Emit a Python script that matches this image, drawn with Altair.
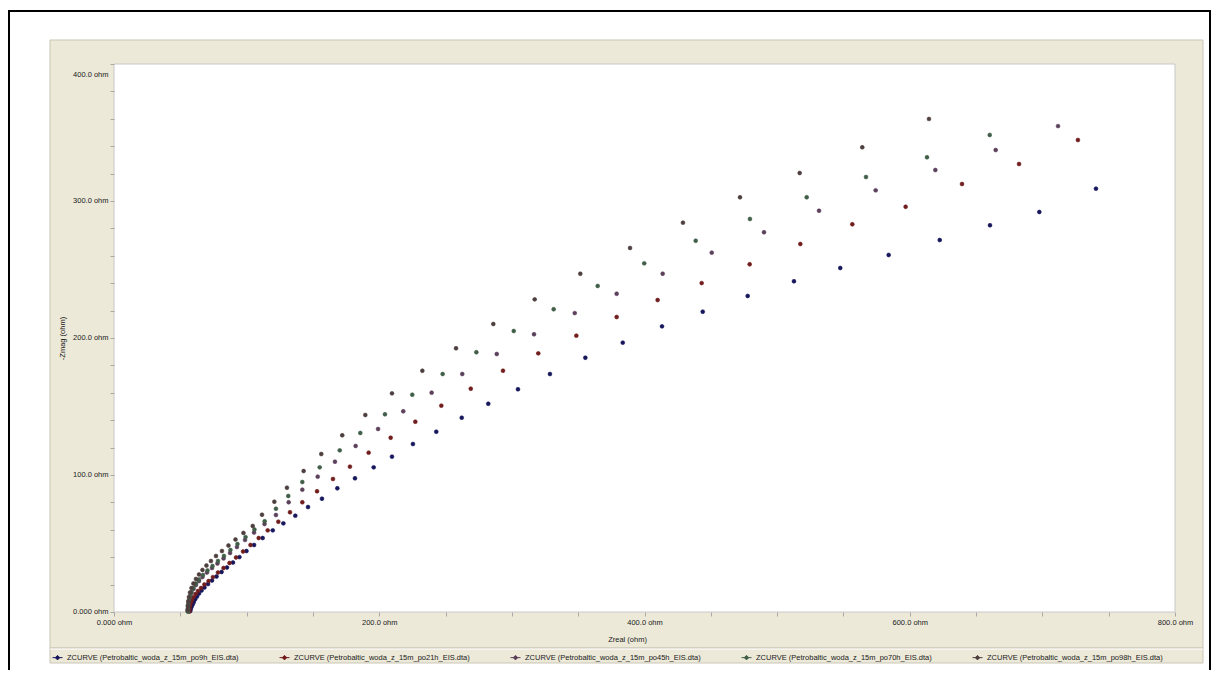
import altair as alt
import pandas as pd

# ---------------- data ----------------
series_names = [
    "ZCURVE (Petrobaltic_woda_z_15m_po9h_EIS.dta)",
    "ZCURVE (Petrobaltic_woda_z_15m_po21h_EIS.dta)",
    "ZCURVE (Petrobaltic_woda_z_15m_po45h_EIS.dta)",
    "ZCURVE (Petrobaltic_woda_z_15m_po70h_EIS.dta)",
    "ZCURVE (Petrobaltic_woda_z_15m_po98h_EIS.dta)",
]

po9h_zreal = [57.5, 57.9, 58.5, 59.3, 60.2, 61.2, 62.6, 64.1, 66.0, 68.2, 70.9, 73.9, 77.3, 81.1, 85.2, 89.7,
              94.6, 99.9, 105.6, 112.1, 119.7, 127.7, 136.7, 146.3, 156.8, 168.4, 181.7, 195.8, 209.6, 225.4,
              243.0, 262.2, 282.2, 304.6, 328.7, 355.4, 383.6, 413.2, 443.9, 477.8, 512.7, 547.6, 584.1, 622.6,
              660.5, 697.7, 740.4]
po9h_zmag = [0.7, 2.2, 3.8, 5.5, 7.3, 9.3, 11.3, 13.5, 15.7, 17.9, 20.4, 23.0, 25.9, 29.2, 32.5, 36.1,
             40.1, 44.5, 48.9, 54.0, 59.6, 64.7, 70.3, 76.6, 82.7, 90.3, 97.6, 105.6, 113.4, 122.6,
             131.6, 141.8, 152.0, 162.6, 173.7, 185.6, 196.6, 208.5, 219.2, 230.7, 241.4, 251.1, 260.6, 271.5,
             282.3, 292.0, 309.0]

po21h_zreal = [56.8, 56.9, 57.3, 57.9, 58.8, 59.9, 61.5, 63.3, 65.6, 68.2, 71.3, 74.6, 78.4, 82.6, 87.1, 92.0,
               97.3, 102.9, 109.1, 115.9, 123.9, 132.7, 142.0, 153.1, 165.1, 177.9, 192.0, 208.6, 227.2, 246.8,
               269.0, 293.3, 319.9, 348.6, 379.0, 409.9, 443.1, 479.3, 517.5, 556.7, 596.9, 639.4, 682.4, 726.8]
po21h_zmag = [0.4, 2.2, 4.4, 6.6, 8.8, 10.9, 13.1, 15.3, 17.5, 20.1, 22.6, 25.5, 28.8, 32.1, 35.8, 39.8,
              44.2, 48.9, 54.0, 59.6, 65.9, 72.8, 80.1, 88.1, 97.1, 106.1, 116.3, 127.2, 138.9, 150.6,
              163.0, 176.1, 188.8, 201.7, 215.3, 227.7, 240.1, 253.8, 268.6, 283.0, 295.8, 312.4, 327.0, 344.5]

po45h_zreal = [55.8, 55.9, 56.2, 56.5, 57.3, 58.4, 59.9, 61.8, 64.1, 66.7, 70.1, 73.9, 78.0, 82.6, 87.5, 92.7,
               98.8, 105.6, 113.5, 122.1, 131.7, 142.0, 153.6, 166.6, 182.2, 199.1, 218.1, 239.5, 262.6, 288.6,
               316.7, 347.4, 379.0, 413.7, 450.7, 490.1, 531.6, 574.3, 619.3, 664.8, 711.8]
po45h_zmag = [0.4, 2.2, 5.1, 8.0, 10.9, 13.9, 16.8, 19.7, 22.6, 25.5, 28.8, 32.1, 35.4, 39.1, 43.1, 47.4,
              52.6, 58.0, 64.2, 70.8, 80.1, 89.3, 98.8, 109.7, 121.2, 133.6, 146.5, 160.1, 173.7, 188.3,
              202.7, 218.2, 232.3, 246.9, 262.3, 277.2, 292.9, 307.8, 322.6, 337.2, 354.7]

po70h_zreal = [55.6, 55.8, 56.0, 56.5, 57.3, 58.4, 59.9, 61.8, 64.1, 67.1, 70.5, 74.3, 78.4, 82.9, 87.8, 93.1,
               99.2, 105.9, 113.6, 122.1, 131.4, 142.0, 155.1, 170.2, 185.7, 204.3, 224.9, 247.8, 273.2, 301.4,
               331.5, 364.7, 399.8, 438.6, 479.5, 522.3, 567.0, 613.0, 660.3]
po70h_zmag = [0.4, 2.9, 5.8, 8.8, 11.7, 14.6, 17.5, 20.8, 23.7, 27.0, 30.3, 33.6, 37.2, 40.9, 45.3, 49.6,
              54.7, 60.2, 66.2, 75.4, 84.7, 94.9, 105.6, 118.0, 130.7, 144.3, 158.6, 173.7, 189.6, 205.1,
              221.0, 238.0, 254.5, 271.0, 286.9, 302.7, 317.5, 331.9, 348.2]

po98h_zreal = [55.4, 55.6, 56.0, 56.5, 57.3, 58.4, 59.9, 61.8, 64.1, 66.7, 69.7, 73.1, 76.9, 81.4, 86.3, 91.6,
               97.6, 104.6, 111.6, 120.9, 130.4, 143.0, 156.3, 172.1, 189.5, 209.6, 232.5, 257.9, 286.0, 317.2,
               351.6, 389.1, 429.0, 472.0, 517.0, 564.2, 614.5]
po98h_zmag = [1.5, 4.4, 7.7, 10.9, 14.2, 17.5, 20.8, 24.1, 27.4, 30.7, 33.9, 37.2, 40.9, 44.5, 48.5, 52.9,
              57.7, 62.8, 71.0, 80.5, 90.7, 102.9, 115.3, 129.0, 143.8, 159.6, 176.1, 192.5, 210.2, 228.2,
              246.9, 265.7, 284.2, 302.7, 320.4, 339.2, 359.9]

x_ticks = list(range(0, 801, 50))
y_ticks = list(range(0, 401, 20))

# ---------------- table ----------------
all_x = [po9h_zreal, po21h_zreal, po45h_zreal, po70h_zreal, po98h_zreal]
all_y = [po9h_zmag, po21h_zmag, po45h_zmag, po70h_zmag, po98h_zmag]
rows = []
for i, (name, xs, ys) in enumerate(zip(series_names, all_x, all_y)):
    for a, b in zip(xs, ys):
        rows.append({"series": name, "zreal": a, "zmag": b, "k": i})
df = pd.DataFrame(rows)

colors = ["#16165c", "#721d1d", "#5b3f5b", "#405e48", "#4e3e3e"]
FONT = "Liberation Sans"
W, H = 1061, 548
one = alt.Data(values=[{"a": 1}])

# ---------------- frame decorations ----------------
border_l = alt.Chart(one).mark_rule(color="black", strokeWidth=2).encode(
    x=alt.value(-105), y=alt.value(-54), y2=alt.value(620))
border_t = alt.Chart(one).mark_rule(color="black", strokeWidth=2).encode(
    x=alt.value(-106), x2=alt.value(1097), y=alt.value(-53))
border_r = alt.Chart(one).mark_rule(color="black", strokeWidth=2).encode(
    x=alt.value(1096), y=alt.value(-54), y2=alt.value(620))
panel = alt.Chart(one).mark_rect(fill="#ECE9D8", stroke="#c9c6b6", strokeWidth=1).encode(
    x=alt.value(-64), x2=alt.value(1089), y=alt.value(-24), y2=alt.value(599))
legend_sep = alt.Chart(one).mark_rule(color="#b9b6a7", strokeWidth=1).encode(
    x=alt.value(-64), x2=alt.value(1089), y=alt.value(584))
legend_sep2 = alt.Chart(one).mark_rule(color="#ffffff", strokeWidth=1).encode(
    x=alt.value(-64), x2=alt.value(1089), y=alt.value(585))
plot_bg = alt.Chart(one).mark_rect(fill="white", stroke="#c8c8c8", strokeWidth=1).encode(
    x=alt.value(0), x2=alt.value(W), y=alt.value(0), y2=alt.value(H))

# ---------------- data points ----------------
lab_x = ("datum.value % 200 === 0 ? (datum.value === 0 ? '0.000 ohm' : "
         "format(datum.value, '.1f') + ' ohm') : ''")
lab_y = ("datum.value % 100 === 0 ? (datum.value === 0 ? '0.000 ohm' : "
         "format(datum.value, '.1f') + ' ohm') : ''")

legend = alt.Legend(
    title=None, orient="none", legendX=-62, legendY=588, direction="horizontal",
    columns=5, columnPadding=38, symbolType="M-1,0H1M0,-0.45L0.45,0L0,0.45L-0.45,0Z",
    symbolSize=100, symbolStrokeWidth=1, labelFont=FONT, labelFontSize=7.5,
    labelColor="#202020", labelLimit=400, labelOffset=4, padding=0,
)
color_scale = alt.Scale(domain=series_names, range=colors)

y_label_offset = {"condition": {"test": "datum.value === 400", "value": 10}, "value": -1}

points = alt.Chart(df).mark_point(filled=True, size=15, strokeWidth=0.6, opacity=1).encode(
    x=alt.X("zreal:Q", scale=alt.Scale(domain=[0, 800], nice=False, zero=False),
            axis=alt.Axis(values=x_ticks, labelExpr=lab_x, title="Zreal (ohm)",
                          titleX=513, titleY=27, titleBaseline="middle", titleAlign="center",
                          labelFlush=False, labelOverlap=False, domain=False, grid=False,
                          tickColor="#a8a8a8", tickSize=4, labelPadding=2, zindex=1)),
    y=alt.Y("zmag:Q", scale=alt.Scale(domain=[0, 400], nice=False, zero=False),
            axis=alt.Axis(values=y_ticks, labelExpr=lab_y, title="-Zmag (ohm)",
                          titleX=-52, titleY=274, titleAngle=270, titleBaseline="middle",
                          titleAlign="center", labelFlush=False, labelOffset=y_label_offset,
                          labelOverlap=False, domain=False, grid=False, tickColor="#a8a8a8",
                          tickSize=4, labelPadding=2, zindex=1)),
    fill=alt.Fill("series:N", scale=color_scale, legend=legend),
    stroke=alt.Stroke("series:N", scale=color_scale, legend=legend),
    order=alt.Order("k:Q"),
)

chart = alt.layer(
    border_l, border_t, border_r, panel, legend_sep, legend_sep2, plot_bg, points
).properties(
    width=W, height=H, autosize="none",
    padding={"left": 106, "top": 56, "right": 36, "bottom": 58},
).configure_view(strokeWidth=0).configure_axis(
    labelFont=FONT, labelFontSize=7.5, labelColor="#202020",
    titleFont=FONT, titleFontSize=7.5, titleFontWeight="normal", titleColor="#202020",
)

chart.save("out.html", embed_options={"renderer": "svg", "actions": False})
